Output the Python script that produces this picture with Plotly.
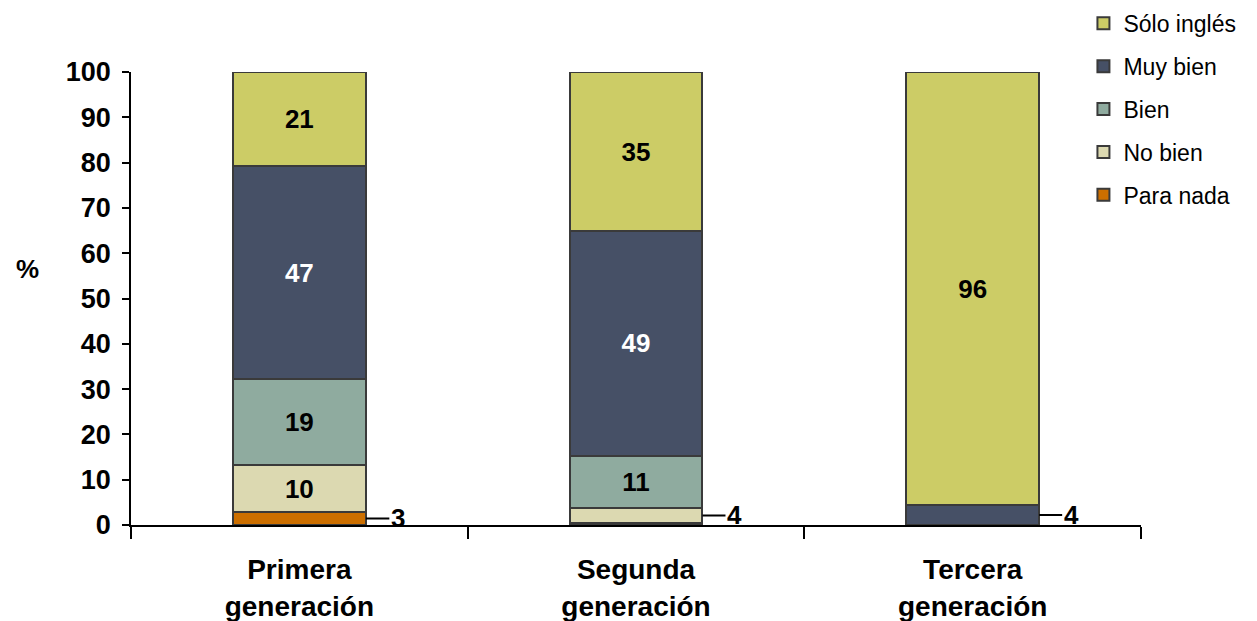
import plotly.graph_objects as go

# categories (x axis) and series, bottom of the stack first
generations = ["Primera<br>generación", "Segunda<br>generación", "Tercera<br>generación"]
series_names = ["Para nada", "No bien", "Bien", "Muy bien", "Sólo inglés"]

para_nada = [2.9, 0.4, 0.0]
no_bien = [10.3, 3.4, 0.0]
bien = [19.0, 11.5, 0.0]
muy_bien = [47.0, 49.6, 4.4]
solo_ingles = [20.8, 35.1, 95.6]

# labels printed on the segments ("" = shown outside with a leader line)
para_nada_labels = ["", "", ""]
no_bien_labels = ["10", "", ""]
bien_labels = ["19", "11", ""]
muy_bien_labels = ["47", "49", ""]
solo_ingles_labels = ["21", "35", "96"]

# small segments labelled outside: (category index, series, label)
outside_labels = [(0, "Para nada", "3"), (1, "No bien", "4"), (2, "Muy bien", "4")]

colors = {
    "Para nada": "#CC6F00",
    "No bien": "#DCD9B1",
    "Bien": "#8FAB9F",
    "Muy bien": "#465066",
    "Sólo inglés": "#CCCC66",
}
text_colors = {
    "Para nada": "black",
    "No bien": "black",
    "Bien": "black",
    "Muy bien": "white",
    "Sólo inglés": "black",
}

values = [para_nada, no_bien, bien, muy_bien, solo_ingles]
labels = [para_nada_labels, no_bien_labels, bien_labels, muy_bien_labels, solo_ingles_labels]

FONT = "Liberation Sans, Arial, sans-serif"
BAR_WIDTH = 0.395

fig = go.Figure()
for ix, name in enumerate(series_names):
    fig.add_trace(
        go.Bar(
            x=generations,
            y=values[ix],
            name=name,
            legendgroup=name,
            legendrank=len(series_names) - ix,
            width=BAR_WIDTH,
            marker=dict(color=colors[name], line=dict(color="#3a3a3a", width=2)),
            text=labels[ix],
            textposition="inside",
            insidetextanchor="middle",
            textangle=0,
            constraintext="none",
            textfont=dict(family=FONT, size=26, color=text_colors[name], weight="bold"),
            hoverinfo="skip",
        )
    )

# leader-line labels for the thin segments
for cat_ix, series, text in outside_labels:
    s_ix = series_names.index(series)
    base = sum(values[k][cat_ix] for k in range(s_ix))
    mid = base + values[s_ix][cat_ix] / 2
    fig.add_annotation(
        x=cat_ix + BAR_WIDTH / 2,
        y=mid,
        xref="x",
        yref="y",
        text=f"<b>{text}</b>",
        showarrow=True,
        arrowhead=0,
        arrowwidth=2,
        arrowcolor="black",
        ax=32,
        ay=0,
        font=dict(family=FONT, size=26, color="black"),
    )

fig.add_annotation(
    text="<b>%</b>",
    xref="paper",
    yref="paper",
    x=-0.102,
    y=0.565,
    xanchor="center",
    yanchor="middle",
    showarrow=False,
    font=dict(family=FONT, size=26, color="black"),
)

# the page body adds 8px on the left and top, so margins are shifted by 8
fig.update_layout(
    width=1257,
    height=621,
    barmode="stack",
    plot_bgcolor="white",
    paper_bgcolor="white",
    margin=dict(l=123, r=124, t=64, b=104, autoexpand=False),
    font=dict(family=FONT, color="black"),
    legend=dict(
        x=0.943,
        y=1.155,
        xanchor="left",
        yanchor="top",
        traceorder="grouped",
        tracegroupgap=10,
        font=dict(family=FONT, size=23, color="black"),
        bgcolor="rgba(0,0,0,0)",
    ),
    xaxis=dict(
        showline=True,
        linecolor="black",
        linewidth=1.5,
        ticks="outside",
        tickson="boundaries",
        ticklen=12,
        tickcolor="black",
        tickwidth=1.5,
        ticklabelstandoff=19,
        tickfont=dict(family=FONT, size=28, color="black", weight="bold"),
        showgrid=False,
    ),
    yaxis=dict(
        range=[0, 100],
        tickvals=list(range(0, 101, 10)),
        showline=True,
        linecolor="black",
        linewidth=1.5,
        ticks="outside",
        ticklen=7,
        tickcolor="black",
        tickwidth=1.5,
        ticklabelstandoff=6,
        tickfont=dict(family=FONT, size=27, color="black", weight="bold"),
        showgrid=False,
        zeroline=False,
    ),
)

fig.write_html("out.html")
